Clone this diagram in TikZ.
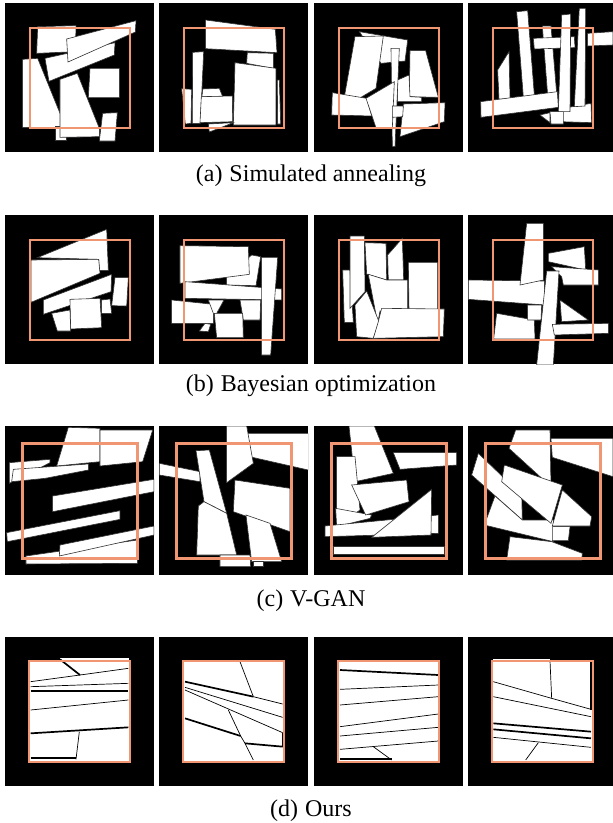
\documentclass[tikz,border=0pt]{standalone}
\usepackage{fontspec}
\setmainfont{Liberation Serif}
\definecolor{sqc}{RGB}{241,150,114}
\tikzset{
  poly/.style={fill=white,draw=black!80,line width=0.6pt},
  ln/.style={draw=black,line width=0.7pt},
  tk/.style={draw=black,line width=1.7pt},
  captxt/.style={anchor=base,inner sep=0pt,font=\fontsize{24}{28}\selectfont}
}
\newcommand{\pg}[1]{\path[poly] #1 -- cycle;}
% #1,#2 panel top-left; #3,#4 crop origin; #5 square offset; #6 square side; #7 square line width; #8 body
\newcommand{\panelat}[8]{%
\begin{scope}
\clip (#1,#2) rectangle ++(149,149);
\fill[black] (#1,#2) rectangle ++(149,149);
\begin{scope}[shift={(#3,#4)}]
\begin{scope}[x=0.33333pt,y=-0.33333pt]
#8
\end{scope}
\end{scope}
\draw[sqc,line width=#7] (#1+#5,#2+#5) rectangle ++(#6,#6);
\end{scope}}
\begin{document}
\begin{tikzpicture}[x=1pt,y=-1pt]
\useasboundingbox[fill=white] (0,0) rectangle (613,823);

% ---------------- row a ----------------
\panelat{5}{3}{0}{0}{25}{100}{2pt}{
\pg{(68,178)--(113,175)--(197,382)--(68,382)}
\pg{(113,80)--(228,77)--(226,155)--(110,160)}
\pg{(135,175)--(345,128)--(343,165)--(147,244)}
\pg{(200,117)--(408,62)--(406,96)--(204,186)}
\pg{(270,205)--(358,205)--(358,293)--(265,293)}
\pg{(165,380)--(200,380)--(200,420)--(165,420)}
\pg{(180,238)--(232,220)--(298,385)--(298,410)--(180,412)}
\pg{(308,340)--(352,338)--(345,423)--(298,423)}
}
\panelat{159}{3}{0}{0}{25}{100}{2pt}{
\pg{(617,60)--(826,88)--(831,158)--(617,146)}
\pg{(742,158)--(820,160)--(820,205)--(740,190)}
\pg{(832,240)--(838,240)--(842,372)--(833,372)}
\pg{(705,188)--(828,205)--(828,375)--(700,375)}
\pg{(545,266)--(575,268)--(573,370)--(556,372)}
\pg{(608,267)--(658,265)--(668,290)--(606,290)}
\pg{(578,157)--(611,155)--(601,370)--(577,370)}
\pg{(604,290)--(697,288)--(698,365)--(600,368)}
\pg{(625,372)--(700,368)--(628,396)}
}
\panelat{314}{3}{305}{0}{25}{100}{2pt}{
\pg{(163,95)--(308,120)--(300,183)--(228,190)}
\pg{(150,110)--(235,108)--(213,265)--(112,325)}
\pg{(315,152)--(362,152)--(400,292)--(313,290)}
\pg{(82,278)--(185,295)--(200,348)--(80,345)}
\pg{(278,240)--(312,225)--(315,290)--(350,292)--(350,305)--(278,305)}
\pg{(258,145)--(283,145)--(270,440)--(262,440)}
\pg{(183,295)--(268,245)--(262,383)--(213,383)}
\pg{(295,312)--(420,308)--(418,365)--(285,410)}
\pg{(262,318)--(295,318)--(293,350)--(262,352)}
}
\panelat{468}{3}{305}{0}{25}{100}{2pt}{
\pg{(578,210)--(612,155)--(615,295)--(582,298)}
\pg{(635,35)--(668,32)--(688,285)--(655,290)}
\pg{(712,78)--(738,78)--(755,280)--(728,285)}
\pg{(848,100)--(924,95)--(924,135)--(848,138)}
\pg{(685,115)--(808,110)--(810,143)--(688,147)}
\pg{(775,325)--(858,310)--(860,368)--(770,365)}
\pg{(705,345)--(735,338)--(735,368)}
\pg{(735,335)--(775,335)--(775,372)--(738,372)}
\pg{(527,305)--(757,275)--(760,322)--(528,352)}
\pg{(770,45)--(797,42)--(795,335)--(760,335)}
\pg{(823,25)--(842,25)--(840,318)--(808,320)}
}
\node[captxt] (capa) at (311,181) {(a)\hspace{7pt}Simulated annealing};

% ---------------- row b ----------------
\panelat{5}{215}{0}{205}{25}{100}{2pt}{
\pg{(112,158)--(320,73)--(325,196)--(298,196)--(296,163)}
\pg{(93,165)--(296,163)--(300,205)--(93,292)}
\pg{(130,285)--(335,208)--(333,260)--(130,328)}
\pg{(345,218)--(385,218)--(380,303)--(335,302)}
\pg{(305,285)--(330,282)--(335,325)--(305,325)}
\pg{(155,325)--(210,315)--(212,378)--(172,378)}
\pg{(210,283)--(300,280)--(305,368)--(212,372)}
}
\panelat{159}{215}{0}{205}{25}{100}{2pt}{
\pg{(680,215)--(755,150)--(782,155)--(768,242)--(680,240)}
\pg{(540,122)--(745,125)--(748,208)--(540,235)}
\pg{(555,230)--(845,252)--(845,285)--(555,280)}
\pg{(785,157)--(833,157)--(812,450)--(785,450)}
\pg{(515,285)--(640,298)--(640,355)--(515,355)}
\pg{(625,285)--(672,285)--(650,325)--(640,325)}
\pg{(720,285)--(782,285)--(780,345)--(730,345)}
\pg{(598,378)--(615,355)--(632,358)--(625,380)}
\pg{(643,325)--(728,325)--(730,398)--(650,398)}
}
\panelat{314}{215}{305}{205}{25}{100}{2pt}{
\pg{(113,195)--(135,195)--(145,352)--(118,352)}
\pg{(135,93)--(178,93)--(180,260)--(135,310)}
\pg{(180,113)--(243,115)--(245,225)--(185,207)}
\pg{(248,150)--(292,100)--(296,225)--(250,225)}
\pg{(310,172)--(398,172)--(398,315)--(312,315)}
\pg{(190,208)--(245,225)--(308,225)--(308,315)--(225,318)--(218,355)}
\pg{(150,300)--(185,258)--(222,350)--(205,400)--(155,395)}
\pg{(230,310)--(418,312)--(415,395)--(205,400)--(220,350)}
}
\panelat{468}{215}{305}{205}{25}{100}{2pt}{
\pg{(490,225)--(718,228)--(720,300)--(490,283)}
\pg{(665,55)--(715,55)--(715,225)--(645,240)}
\pg{(730,145)--(838,125)--(842,195)--(730,170)}
\pg{(740,185)--(880,195)--(880,240)--(775,240)--(770,215)}
\pg{(575,325)--(688,345)--(690,402)--(566,402)}
\pg{(668,300)--(710,300)--(708,345)--(668,345)}
\pg{(725,198)--(762,198)--(745,480)--(695,480)}
\pg{(765,285)--(850,345)--(770,350)}
\pg{(742,358)--(910,355)--(910,385)--(748,390)}
}
\node[captxt] (capb) at (311,391) {(b)\hspace{7pt}Bayesian optimization};

% ---------------- row c ----------------
\panelat{5}{426}{0}{420}{17}{115}{3pt}{
\pg{(205,22)--(300,25)--(300,125)--(170,138)}
\pg{(300,30)--(458,30)--(428,125)--(300,138)}
\pg{(28,128)--(150,118)--(150,128)--(28,190)}
\pg{(40,148)--(265,132)--(265,150)--(135,175)--(35,185)}
\pg{(158,228)--(462,178)--(462,215)--(158,275)}
\pg{(20,338)--(360,272)--(360,298)--(22,365)}
\pg{(78,408)--(412,360)--(412,430)--(78,432)}
\pg{(180,375)--(462,318)--(462,345)--(178,408)}
}
\panelat{159}{426}{0}{420}{17}{115}{3pt}{
\pg{(715,40)--(925,40)--(925,150)--(740,108)}
\pg{(680,18)--(740,18)--(760,130)--(680,188)}
\pg{(478,130)--(600,155)--(600,185)--(478,165)}
\pg{(705,180)--(870,205)--(870,335)--(700,275)}
\pg{(588,92)--(628,90)--(680,280)--(612,245)}
\pg{(595,258)--(612,245)--(680,280)--(710,405)--(590,405)}
\pg{(738,285)--(810,310)--(845,425)--(755,425)}
\pg{(660,405)--(750,405)--(752,440)--(660,440)}
\pg{(760,425)--(790,425)--(790,440)--(760,440)}
}
\panelat{314}{426}{305}{420}{17}{115}{3pt}{
\pg{(132,18)--(208,18)--(265,160)--(150,185)}
\pg{(265,98)--(455,98)--(455,135)--(285,148)}
\pg{(95,110)--(150,110)--(165,270)--(95,320)}
\pg{(92,265)--(200,285)--(195,295)--(95,320)}
\pg{(60,318)--(400,285)--(400,340)--(60,350)}
\pg{(140,195)--(305,180)--(312,245)--(182,285)}
\pg{(200,352)--(380,208)--(378,345)}
\pg{(85,378)--(418,378)--(418,402)--(85,402)}
}
\panelat{468}{426}{305}{420}{17}{115}{3pt}{
\pg{(738,55)--(924,55)--(924,170)--(742,112)}
\pg{(632,30)--(735,30)--(738,200)--(612,85)}
\pg{(500,165)--(520,100)--(650,225)--(652,300)}
\pg{(538,315)--(570,228)--(652,300)--(745,300)--(745,365)}
\pg{(598,135)--(772,195)--(738,310)--(590,185)}
\pg{(772,210)--(860,290)--(855,318)--(742,318)}
\pg{(742,320)--(795,320)--(790,362)--(742,362)}
\pg{(615,350)--(740,365)--(832,400)--(830,420)--(605,420)}
}
\node[captxt] (capc) at (311,606) {(c)\hspace{7pt}V-GAN};

% ---------------- row d ----------------
\panelat{5}{637}{0}{630}{24}{101}{2pt}{
\fill[white] (88,93) rectangle (392,397);
\fill[white] (180,84) rectangle (386,95);
\draw[tk] (180,88)--(240,135);
\draw[ln] (92,155)--(240,135)--(385,115);
\draw[ln] (92,170)--(385,160);
\draw[tk] (92,183)--(385,183);
\draw[ln] (92,240)--(385,210);
\draw[tk] (92,310)--(385,292);
\draw[ln] (238,305)--(228,388);
\draw[tk] (92,385)--(228,385);
}
\panelat{159}{637}{0}{630}{24}{101}{2pt}{
\fill[white] (551,95) rectangle (851,395);
\draw[ln] (720,95)--(760,200);
\draw[tk] (555,155)--(760,200);
\draw[ln] (760,200)--(848,222);
\draw[ln] (555,172)--(848,262);
\draw[ln] (555,180)--(848,308);
\draw[ln] (685,240)--(722,318);
\draw[tk] (555,265)--(722,318);
\draw[ln] (722,318)--(735,340);
\draw[tk] (735,340)--(848,350);
\draw[ln] (848,308)--(848,350);
\draw[ln] (735,340)--(760,390);
}
\panelat{314}{637}{305}{630}{24}{101}{2pt}{
\fill[white] (102,95) rectangle (402,395);
\draw[tk] (105,120)--(400,135);
\draw[ln] (105,178)--(400,165);
\draw[ln] (105,225)--(400,200);
\draw[ln] (105,290)--(400,252);
\draw[ln] (105,318)--(400,292);
\draw[ln] (105,358)--(400,333);
\draw[ln] (205,350)--(260,390);
\draw[tk] (105,388)--(260,388);
}
\panelat{468}{637}{305}{630}{24}{101}{2pt}{
\fill[white] (565,95) rectangle (862,392);
\fill[white] (565,87) rectangle (736,96);
\draw[ln] (735,92)--(740,205);
\draw[ln] (565,155)--(740,205)--(858,238);
\draw[ln] (565,200)--(858,260);
\draw[tk] (565,280)--(858,305);
\draw[tk] (565,298)--(858,325);
\draw[ln] (565,322)--(858,352);
\draw[ln] (700,338)--(662,390);
\draw[tk] (858,95)--(858,240);
}
\node[captxt] (capd) at (311,816) {(d)\hspace{7pt}Ours};
\end{tikzpicture}
\end{document}
